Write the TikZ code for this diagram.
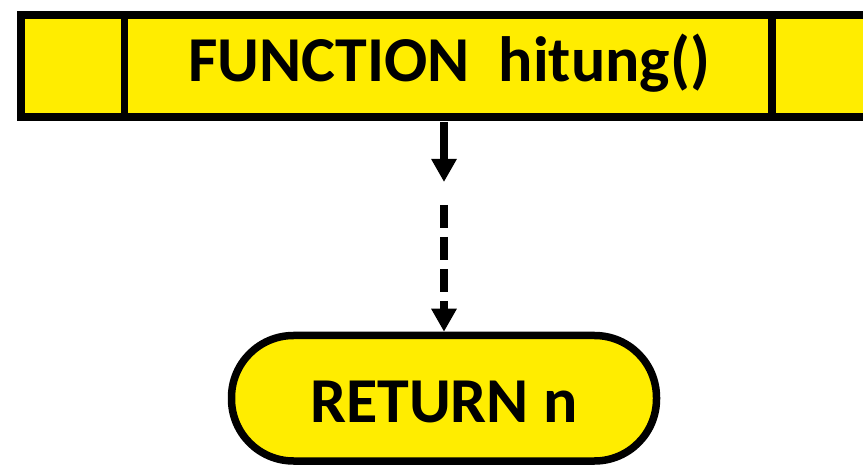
\documentclass[tikz,border=0pt]{standalone}
\usepackage{fontspec}
\setmainfont{Carlito}
\usetikzlibrary{arrows.meta}
\definecolor{fillyellow}{RGB}{255,237,0}
\tikzset{
  boxstyle/.style={draw=black, fill=fillyellow, line width=7.5pt},
  lbl/.style={font=\fontsize{64}{72}\selectfont\bfseries, text=black},
  flow/.style={line width=8pt, -{Triangle[width=24pt,length=23pt]}},
}
\begin{document}
\begin{tikzpicture}[x=1pt,y=-1pt]
\useasboundingbox (0,0) rectangle (863,465);
\clip (0,0) rectangle (863,465);
% header bar
\node[boxstyle, rectangle, minimum width=870pt, minimum height=102pt, inner sep=0pt, anchor=north west] (bar) at (17,11.5) {};
\draw[line width=7.5pt] (124.5,11.5) -- (124.5,113.5);
\draw[line width=7.5pt] (772,11.5) -- (772,113.5);
\node[lbl] (func) at (449,63) {FUNCTION\ \ hitung()};
% terminal
\node[boxstyle, rectangle, rounded corners=62pt, minimum width=425pt, minimum height=125.5pt, inner sep=0pt] (ret) at (444,398.25) {};
\node[lbl] (rettext) at (444,402) {RETURN n};
% connectors
\coordinate (a1) at (444,122);
\coordinate (a2) at (444,182);
\coordinate (b1) at (444,205);
\draw[flow] (a1) -- (a2);
\draw[flow, dash pattern=on 23pt off 9pt] (b1) -- (ret.north);
\end{tikzpicture}
\end{document}
